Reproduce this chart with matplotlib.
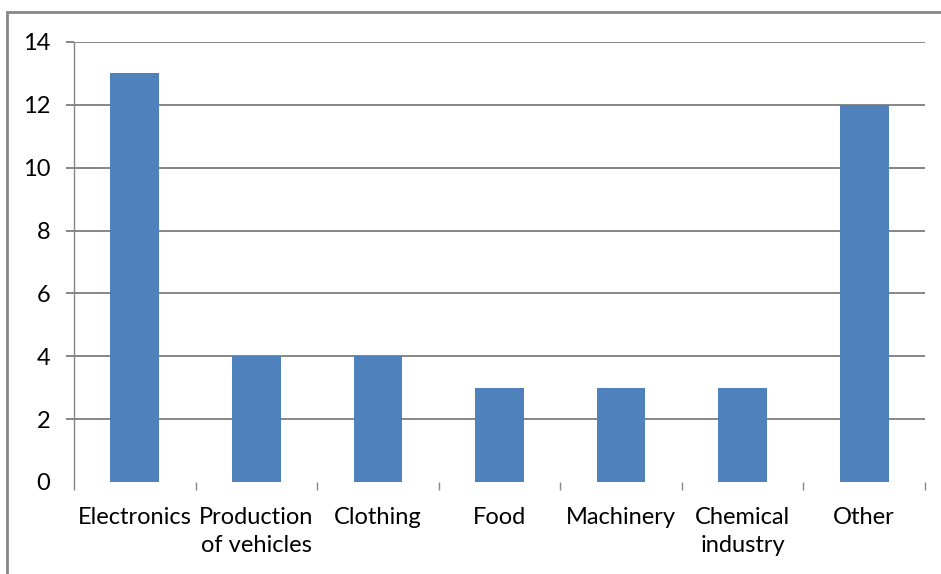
import matplotlib.pyplot as plt
from matplotlib.patches import Rectangle

categories = ["Electronics", "Production\nof vehicles", "Clothing", "Food",
              "Machinery", "Chemical\nindustry", "Other"]
values = [13, 4, 4, 3, 3, 3, 12]
y_ticks = [0, 2, 4, 6, 8, 10, 12, 14]

plt.rcParams["font.family"] = ["Lato", "DejaVu Sans"]
GRAY = "#868686"

fig = plt.figure(figsize=(9.41, 5.74), dpi=100)
ax = fig.add_axes([74 / 941, 1 - 482 / 574, (925 - 74) / 941, (482 - 42) / 574])

x = list(range(len(categories)))
ax.bar(x, values, width=0.4, color="#4F81BD", zorder=3)

ax.set_xlim(-0.5, len(categories) - 0.5)
ax.set_ylim(0, 14)
ax.set_yticks(y_ticks)
ax.set_yticklabels([str(v) for v in y_ticks], fontsize=17)
ax.yaxis.grid(True, color=GRAY, linewidth=1.4, zorder=0)
ax.tick_params(axis="y", length=6, width=1.4, color=GRAY, pad=11)

# no line / tick at zero
ax.get_ygridlines()[0].set_visible(False)
ax.yaxis.get_major_ticks()[0].tick1line.set_visible(False)

# category labels in the middle, ticks on the boundaries
ax.set_xticks(x)
ax.set_xticklabels(categories, fontsize=17, linespacing=1.4)
ax.tick_params(axis="x", length=0, pad=18)
ax.set_xticks([i - 0.5 for i in range(len(categories) + 1)], minor=True)
ax.tick_params(axis="x", which="minor", length=6, width=1, color=GRAY)

for s in ["top", "right", "bottom"]:
    ax.spines[s].set_visible(False)
ax.spines["left"].set_color(GRAY)
ax.spines["left"].set_linewidth(1)

# outer chart frame, cut by the image edge on right and bottom
fig.patches.append(Rectangle((7 / 941, -0.1), 1.2, 1 - 12 / 574 + 0.1,
                             transform=fig.transFigure, fill=False,
                             edgecolor=GRAY, linewidth=2))

fig.savefig("out.png", dpi=100)
